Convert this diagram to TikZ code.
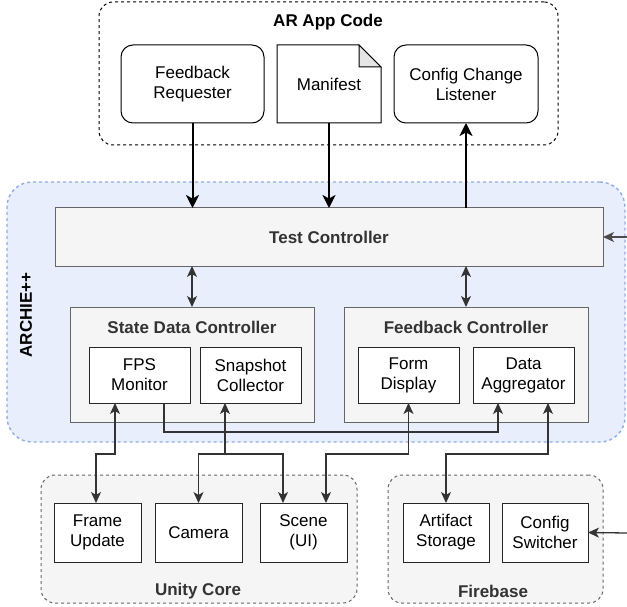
\documentclass[tikz,border=0pt]{standalone}
\usepackage{fontspec}
\setmainfont{Liberation Sans}
\usetikzlibrary{arrows.meta,calc}
\definecolor{bluefill}{HTML}{E8EEFC}
\definecolor{blueline}{HTML}{8FAEE3}
\definecolor{grayfill}{HTML}{F5F5F5}
\definecolor{grayline}{HTML}{666666}
\definecolor{txtgray}{HTML}{333333}
\definecolor{foldgray}{HTML}{E6E6E6}
\tikzset{
  base/.style={font=\fontsize{17}{20}\selectfont, inner sep=0pt, outer sep=0pt, align=center},
  boldtxt/.style={base, font=\fontsize{17}{20}\selectfont\bfseries},
  appbox/.style={base, draw=black, line width=1pt, rounded corners=12pt, fill=white, minimum height=78pt},
  innerbox/.style={base, draw=black!85, line width=1pt, fill=white},
  ctrlbox/.style={base, draw=grayline, line width=1pt, fill=grayfill},
  grpbox/.style={base, draw=grayline, line width=1pt, fill=grayfill, dash pattern=on 3pt off 3pt, rounded corners=14pt},
  conn/.style={draw=black!80, line width=1.2pt},
  tip/.style={-{Stealth[length=11pt,width=10pt,inset=3pt]}},
  bitip/.style={{Stealth[length=11pt,width=10pt,inset=3pt]}-{Stealth[length=11pt,width=10pt,inset=3pt]}},
  heavy/.style={draw=black, line width=2pt, -{Stealth[length=13pt,width=13pt,inset=3.5pt]}},
}
\begin{document}
\begin{tikzpicture}[x=1pt,y=-1pt]
\useasboundingbox (0,0) rectangle (627,607);
\fill[white] (0,0) rectangle (627,607);

% ---------- AR App Code ----------
\node[base, draw=black, line width=1pt, dash pattern=on 3pt off 3pt, rounded corners=14pt,
      minimum width=459pt, minimum height=143pt] (arcode) at (328.5,73.5) {};
\node[boldtxt] (artitle) at (328,22) {AR App Code};
\node[appbox, minimum width=143pt] (fr) at (192.5,84) {Feedback\\Requester};
\node[base, minimum width=104pt, minimum height=78pt] (man) at (329,84) {Manifest};
\draw[line width=1pt] (man.north west) -- ([xshift=-22pt]man.north east)
   -- ([yshift=-22pt]man.north east) -- (man.south east) -- (man.south west) -- cycle;
\draw[line width=1pt, fill=foldgray] ([xshift=-22pt]man.north east)
   -- ([xshift=-22pt,yshift=-22pt]man.north east) -- ([yshift=-22pt]man.north east) -- cycle;
\node[appbox, minimum width=144pt] (ccl) at (466,84) {Config Change\\Listener};

% ---------- ARCHIE++ ----------
\node[base, draw=blueline, fill=bluefill, line width=1.4pt, dash pattern=on 3pt off 3pt,
      rounded corners=25pt, minimum width=618pt, minimum height=260pt] (archie) at (316,312) {};
\node[boldtxt, rotate=90] (archlbl) at (26,315) {ARCHIE++};
\node[ctrlbox, minimum width=548pt, minimum height=58pt, text=txtgray, font=\fontsize{17}{20}\selectfont\bfseries] (tc) at (329,237) {Test Controller};

\node[ctrlbox, minimum width=244pt, minimum height=115pt] (sdc) at (192,364.5) {};
\node[boldtxt, text=txtgray] (sdctitle) at (192,327) {State Data Controller};
\node[ctrlbox, minimum width=244pt, minimum height=115pt] (fc) at (466,364.5) {};
\node[boldtxt, text=txtgray] (fctitle) at (466,327) {Feedback Controller};

\node[innerbox, minimum width=101pt, minimum height=56pt] (fps) at (139.5,375) {FPS\\Monitor};
\node[innerbox, minimum width=101pt, minimum height=56pt] (snap) at (250.5,375) {Snapshot\\Collector};
\node[innerbox, minimum width=101pt, minimum height=56pt] (form) at (408.5,375) {Form\\Display};
\node[innerbox, minimum width=101pt, minimum height=56pt] (da) at (523.5,375) {Data\\Aggregator};

% ---------- Unity Core / Firebase ----------
\node[grpbox, minimum width=316pt, minimum height=128pt] (unity) at (199,539) {};
\node[boldtxt, text=txtgray] (unitytitle) at (198,591) {Unity Core};
\node[innerbox, minimum width=87pt, minimum height=59pt] (frame) at (97.5,532.5) {Frame\\Update};
\node[innerbox, minimum width=87pt, minimum height=59pt] (camera) at (198.5,532.5) {Camera};
\node[innerbox, minimum width=87pt, minimum height=59pt] (scene) at (303.5,532.5) {Scene\\(UI)};

\node[grpbox, minimum width=215pt, minimum height=128pt] (firebase) at (495.5,539) {};
\node[boldtxt, text=txtgray] (fbtitle) at (493,591) {Firebase};
\node[innerbox, minimum width=86pt, minimum height=59pt] (artifact) at (446,532.5) {Artifact\\Storage};
\node[innerbox, minimum width=86pt, minimum height=59pt] (cs) at (545,532.5) {Config\\Switcher};

% ---------- helper coordinates ----------
\coordinate (hy) at (0,454);
\coordinate (hy2) at (0,432);
\coordinate (x96) at (96,0);
\coordinate (x115) at (115,0);
\coordinate (x164) at (164,0);
\coordinate (x225) at (225,0);
\coordinate (x283) at (283,0);
\coordinate (x326) at (326,0);
\coordinate (x498) at (498,0);
\coordinate (x548) at (548,0);
\coordinate (ext1) at (627,237);
\coordinate (ext2) at (627,533);

% ---------- connectors ----------
\draw[heavy] (fr.south) -- (fr.south |- tc.north);
\draw[heavy] (man.south) -- (man.south |- tc.north);
\draw[heavy] (tc.north -| ccl.south) -- (ccl.south);
\draw[conn, draw=black!70, line width=1.5pt, tip] (ext1) -- (tc.east);
\draw[conn, line width=1.3pt, tip] (ext2) -- (cs.east);

\draw[conn, bitip] (tc.south -| sdc.north) -- (sdc.north);
\draw[conn, bitip] (tc.south -| fc.north) -- (fc.north);

\draw[conn, bitip] (fps.south -| x115) -- (x115 |- hy) -- (x96 |- hy) -- (frame.north -| x96);
\draw[conn, bitip] (snap.south -| x225) -- (x225 |- hy) -- (camera.north |- hy) -- (camera.north);
\draw[conn, tip] (x225 |- hy) -- (x283 |- hy) -- (scene.north -| x283);
\draw[conn, bitip] (form.south) -- (form.south |- hy) -- (x326 |- hy) -- (scene.north -| x326);
\draw[conn, tip] (fps.south -| x164) -- (x164 |- hy2) -- (x498 |- hy2) -- (da.south -| x498);
\draw[conn, bitip] (da.south -| x548) -- (x548 |- hy) -- (artifact.north |- hy) -- (artifact.north);
\end{tikzpicture}
\end{document}
